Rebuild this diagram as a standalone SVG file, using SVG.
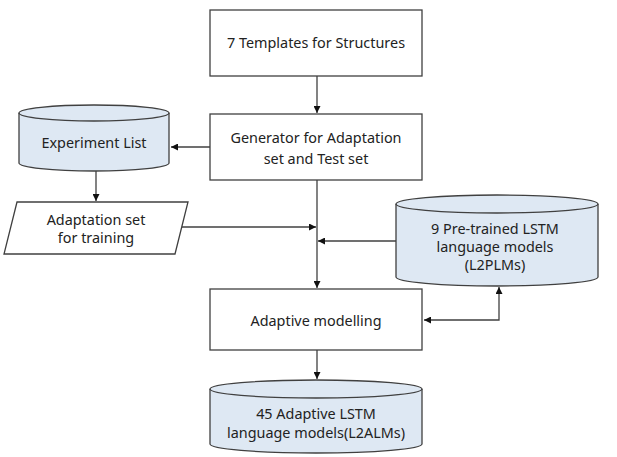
<svg xmlns="http://www.w3.org/2000/svg" width="617" height="457" viewBox="0 0 617 457">
<style>
.box{fill:#fff;stroke:#404040;stroke-width:1.3}
.cyl{fill:#dee8f3;stroke:#404040;stroke-width:1.3}
.ln{fill:none;stroke:#404040;stroke-width:1.3}
text{font-family:"Noto Sans","Open Sans",sans-serif;font-size:14.4px;fill:#222;text-anchor:middle}
</style>
<defs>
<marker id="ah" viewBox="0 0 10 10" refX="10" refY="5" markerWidth="7" markerHeight="7" markerUnits="userSpaceOnUse" orient="auto-start-reverse">
<path d="M0,0 L10,5 L0,10 z" fill="#111"/>
</marker>
</defs>
<g id="connectors">
<line class="ln" x1="317" y1="76" x2="317" y2="113" marker-end="url(#ah)"/>
<line class="ln" x1="210" y1="147" x2="171" y2="147" marker-end="url(#ah)"/>
<line class="ln" x1="96" y1="171" x2="96" y2="201" marker-end="url(#ah)"/>
<line class="ln" x1="182" y1="227" x2="316" y2="227" marker-end="url(#ah)"/>
<line class="ln" x1="317" y1="180" x2="317" y2="288" marker-end="url(#ah)"/>
<line class="ln" x1="396" y1="241" x2="318" y2="241" marker-end="url(#ah)"/>
<path class="ln" d="M499,287 L499,320 L424,320" marker-start="url(#ah)" marker-end="url(#ah)"/>
<line class="ln" x1="317" y1="350" x2="317" y2="379" marker-end="url(#ah)"/>
</g>
<g id="templates">
<rect class="box" x="210" y="10" width="212" height="66"/>
<text x="316" y="48">7 Templates for Structures</text>
</g>
<g id="generator">
<rect class="box" x="210" y="114" width="212" height="66"/>
<text x="316" y="143">Generator for Adaptation</text>
<text x="316" y="164">set and Test set</text>
</g>
<g id="experiment-list">
<path class="cyl" d="M19,113 L19,163 A75,8 0 0 0 169,163 L169,113 A75,8 0 0 0 19,113 Z"/>
<path class="ln" d="M19,113 A75,8 0 0 0 169,113"/>
<text x="94" y="148">Experiment List</text>
</g>
<g id="adaptation-set">
<polygon class="box" points="17,202 188,202 175,254 4,254"/>
<text x="96" y="225">Adaptation set</text>
<text x="96" y="243">for training</text>
</g>
<g id="pretrained">
<path class="cyl" d="M396,204 L396,277 A101,9 0 0 0 598,277 L598,204 A101,9 0 0 0 396,204 Z"/>
<path class="ln" d="M396,204 A101,9 0 0 0 598,204"/>
<text x="495" y="234">9 Pre-trained LSTM</text>
<text x="495" y="252">language models</text>
<text x="495" y="270">(L2PLMs)</text>
</g>
<g id="adaptive-modelling">
<rect class="box" x="210" y="289" width="212" height="61"/>
<text x="316" y="326">Adaptive modelling</text>
</g>
<g id="adaptive-lms">
<path class="cyl" d="M210,389 L210,444 A106,9 0 0 0 422,444 L422,389 A106,9 0 0 0 210,389 Z"/>
<path class="ln" d="M210,389 A106,9 0 0 0 422,389"/>
<text x="316" y="419">45 Adaptive LSTM</text>
<text x="316" y="438">language models(L2ALMs)</text>
</g>
</svg>
